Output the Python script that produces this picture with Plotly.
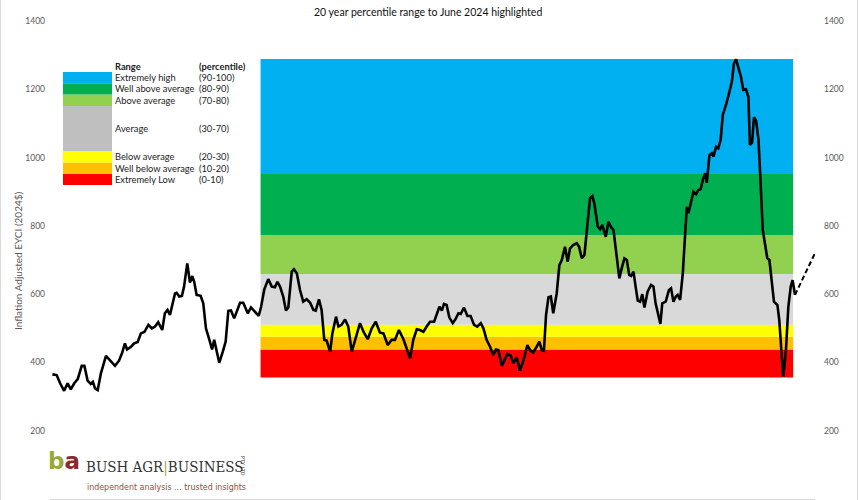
import plotly.graph_objects as go

# ---------------- data ----------------
years = [1996.67, 1996.83, 1996.96, 1997.11, 1997.24, 1997.36, 1997.49, 1997.62, 1997.77, 1997.87,
         1997.99, 1998.11, 1998.19, 1998.27, 1998.37, 1998.49, 1998.68, 1998.87, 1999.02, 1999.17,
         1999.29, 1999.39, 1999.47, 1999.62, 1999.74, 1999.87, 1999.99, 2000.12, 2000.27, 2000.40,
         2000.52, 2000.64, 2000.79, 2000.89, 2000.99, 2001.08, 2001.18, 2001.27, 2001.33, 2001.43,
         2001.53, 2001.61, 2001.73, 2001.83, 2001.92, 2001.99, 2002.08, 2002.23, 2002.33, 2002.43,
         2002.56, 2002.66, 2002.74, 2002.83, 2002.93, 2003.06, 2003.17, 2003.27, 2003.37, 2003.49,
         2003.58, 2003.71, 2003.83, 2004.00, 2004.12, 2004.25, 2004.41, 2004.50, 2004.62, 2004.77,
         2004.90, 2005.02, 2005.11, 2005.21, 2005.33, 2005.43, 2005.52, 2005.65, 2005.73, 2005.84,
         2005.96, 2006.08, 2006.21, 2006.34, 2006.46, 2006.55, 2006.67, 2006.77, 2006.87, 2006.96,
         2007.09, 2007.17, 2007.31, 2007.40, 2007.52, 2007.65, 2007.77, 2007.90, 2008.02, 2008.21,
         2008.34, 2008.50, 2008.65, 2008.80, 2008.96, 2009.09, 2009.25, 2009.40, 2009.52, 2009.67,
         2009.84, 2009.96, 2010.09, 2010.21, 2010.34, 2010.46, 2010.59, 2010.71, 2010.84, 2010.99,
         2011.11, 2011.19, 2011.28, 2011.36, 2011.46, 2011.56, 2011.69, 2011.81, 2011.90, 2011.99,
         2012.11, 2012.24, 2012.36, 2012.49, 2012.61, 2012.74, 2012.84, 2012.96, 2013.09, 2013.21,
         2013.31, 2013.40, 2013.53, 2013.61, 2013.74, 2013.87, 2013.96, 2014.09, 2014.21, 2014.34,
         2014.49, 2014.59, 2014.71, 2014.84, 2014.94, 2015.03, 2015.11, 2015.19, 2015.28, 2015.37,
         2015.46, 2015.59, 2015.69, 2015.78, 2015.90, 2016.00, 2016.09, 2016.21, 2016.34, 2016.43,
         2016.53, 2016.63, 2016.72, 2016.84, 2016.93, 2017.00, 2017.13, 2017.22, 2017.30, 2017.43,
         2017.53, 2017.63, 2017.72, 2017.84, 2017.94, 2018.03, 2018.13, 2018.22, 2018.31, 2018.38,
         2018.47, 2018.56, 2018.63, 2018.72, 2018.80, 2018.88, 2019.00, 2019.13, 2019.22, 2019.30,
         2019.40, 2019.48, 2019.55, 2019.68, 2019.80, 2019.88, 2019.97, 2020.06, 2020.13, 2020.22,
         2020.32, 2020.41, 2020.47, 2020.53, 2020.62, 2020.72, 2020.82, 2020.90, 2020.99, 2021.07,
         2021.16, 2021.22, 2021.32, 2021.41, 2021.47, 2021.57, 2021.65, 2021.74, 2021.82, 2021.94,
         2022.07, 2022.16, 2022.24, 2022.32, 2022.41, 2022.50, 2022.59, 2022.69, 2022.78, 2022.84,
         2022.92, 2022.99, 2023.07, 2023.16, 2023.24, 2023.32, 2023.40, 2023.49, 2023.57, 2023.66,
         2023.74, 2023.87, 2023.94, 2024.03, 2024.09, 2024.19, 2024.28, 2024.37, 2024.44, 2024.53]

eyci = [365, 363, 339, 317, 339, 321, 339, 351, 390, 390,
        347, 337, 343, 324, 319, 368, 419, 402, 390, 405,
        429, 456, 438, 446, 456, 460, 485, 489, 510, 500,
        505, 518, 495, 544, 554, 539, 573, 602, 604, 593,
        595, 622, 690, 634, 653, 636, 598, 595, 573, 500,
        466, 438, 466, 431, 399, 431, 461, 551, 552, 529,
        549, 575, 575, 544, 561, 549, 536, 563, 614, 644,
        622, 620, 636, 622, 593, 552, 561, 666, 673, 661,
        612, 578, 585, 575, 554, 552, 585, 554, 466, 464,
        431, 483, 534, 505, 510, 526, 505, 431, 464, 515,
        490, 468, 500, 519, 487, 485, 451, 466, 466, 495,
        468, 444, 412, 466, 497, 495, 490, 505, 519, 519,
        549, 563, 552, 571, 568, 532, 515, 529, 544, 542,
        561, 536, 536, 510, 505, 515, 500, 466, 446, 422,
        438, 436, 390, 402, 425, 419, 397, 415, 376, 405,
        451, 436, 429, 446, 461, 436, 434, 539, 591, 593,
        544, 602, 685, 700, 739, 695, 734, 744, 749, 739,
        705, 715, 788, 881, 887, 866, 798, 790, 803, 768,
        812, 796, 788, 710, 646, 676, 705, 700, 656, 653,
        666, 617, 581, 578, 600, 561, 607, 627, 622, 573,
        544, 513, 573, 578, 612, 617, 578, 593, 598, 583,
        661, 798, 856, 837, 866, 900, 893, 905, 907, 934,
        954, 926, 1008, 1013, 1003, 1032, 1027, 1052, 1125, 1154,
        1193, 1222, 1276, 1288, 1262, 1237, 1198, 1200, 1178, 1037,
        1044, 1118, 1108, 1052, 925, 788, 749, 705, 700, 632,
        578, 568, 524, 422, 358, 436, 563, 622, 641, 598]

forecast_years = [2024.53, 2025.28]
forecast_vals = [598, 720]

# 20-year percentile bands (June 2004 - June 2024)
band_start, band_end = 2004.48, 2024.46
band_edges = [356, 438, 475, 510, 659, 773, 952, 1289]  # values of 0,10,20,30,70,80,90,100th pct
band_names = ["Extremely Low", "Well below average", "Below average", "Average",
              "Above average", "Well above average", "Extremely high"]
band_pct = ["(0-10)", "(10-20)", "(20-30)", "(30-70)", "(70-80)", "(80-90)", "(90-100)"]
pct_lo = [0, 10, 20, 30, 70, 80, 90]
pct_hi = [10, 20, 30, 70, 80, 90, 100]
band_colors = ["#FF0000", "#FFC000", "#FFFF00", "#D9D9D9", "#92D050", "#00B050", "#00B0F0"]
legend_colors = ["#FF0000", "#FFC000", "#FFFF00", "#BFBFBF", "#92D050", "#00B050", "#00B0F0"]

y_ticks = [0, 200, 400, 600, 800, 1000, 1200, 1400]

# ---------------- layout helpers ----------------
W, H = 860, 500
ML, MR, MT, MB = 50, 45, 21, 1
PW, PH = W - ML - MR, H - MT - MB


def px(x):
    return (x - ML) / PW


def py(y):
    return (H - MB - y) / PH


FONT = "Lato, Open Sans, sans-serif"

fig = go.Figure()

fig.add_trace(go.Scatter(x=years, y=eyci, mode="lines",
                         line=dict(color="black", width=2.6), showlegend=False,
                         hoverinfo="skip"))
fig.add_trace(go.Scatter(x=forecast_years, y=forecast_vals, mode="lines", yaxis="y2",
                         line=dict(color="black", width=2, dash="5px,3px"), showlegend=False,
                         hoverinfo="skip"))

shapes = []
for i in range(len(band_names)):
    shapes.append(dict(type="rect", xref="x", yref="y", x0=band_start, x1=band_end,
                       y0=band_edges[i], y1=band_edges[i + 1], fillcolor=band_colors[i],
                       line=dict(width=0), layer="below"))

annotations = []
# legend block
leg_top, leg_bot = 72, 185
scale = (leg_bot - leg_top) / 100.0
for i in range(len(band_names)):
    y_top = leg_bot - pct_hi[i] * scale
    y_bot = leg_bot - pct_lo[i] * scale
    shapes.append(dict(type="rect", xref="paper", yref="paper", x0=px(63), x1=px(112),
                       y0=py(y_bot), y1=py(y_top), fillcolor=legend_colors[i],
                       line=dict(width=0)))
    ym = (y_top + y_bot) / 2
    annotations.append(dict(xref="paper", yref="paper", x=px(112.5), y=py(ym), text=band_names[i],
                            showarrow=False, xanchor="left", yanchor="middle",
                            font=dict(family=FONT, size=9.3, color="#222")))
    annotations.append(dict(xref="paper", yref="paper", x=px(196.5), y=py(ym), text=band_pct[i],
                            showarrow=False, xanchor="left", yanchor="middle",
                            font=dict(family=FONT, size=9.3, color="#222")))
annotations.append(dict(xref="paper", yref="paper", x=px(112.5), y=py(66.5), text="<b>Range</b>",
                        showarrow=False, xanchor="left", yanchor="middle",
                        font=dict(family=FONT, size=9.3, color="#222")))
annotations.append(dict(xref="paper", yref="paper", x=px(196.5), y=py(66.5), text="<b>(percentile)</b>",
                        showarrow=False, xanchor="left", yanchor="middle",
                        font=dict(family=FONT, size=9.3, color="#222")))

# title
annotations.append(dict(xref="paper", yref="paper", x=px(428), y=py(12),
                        text="20 year percentile range to June 2024 highlighted",
                        showarrow=False, xanchor="center", yanchor="middle",
                        font=dict(family=FONT, size=10.5, color="#111")))
# y axis title
annotations.append(dict(xref="paper", yref="paper", x=px(18), y=py(261),
                        text="Inflation Adjusted EYCI (2024$)", textangle=-90,
                        showarrow=False, xanchor="center", yanchor="middle",
                        font=dict(family=FONT, size=10, color="#595959")))

# logo
annotations.append(dict(xref="paper", yref="paper", x=px(46), y=py(461),
                        text="<b><span style='color:#9AA83A'>b</span>"
                             "<span style='color:#8B2A2A'>a</span></b>",
                        showarrow=False, xanchor="left", yanchor="middle",
                        font=dict(family="DejaVu Sans", size=23, color="#8B2A2A")))
annotations.append(dict(xref="paper", yref="paper", x=px(84), y=py(467),
                        text="BUSH AGR<span style='color:#9AA83A'>|</span>BUSINESS",
                        showarrow=False, xanchor="left", yanchor="middle",
                        font=dict(family="DejaVu Serif Condensed, DejaVu Serif", size=15, color="#333")))
annotations.append(dict(xref="paper", yref="paper", x=px(243), y=py(466), text="PTY LTD",
                        textangle=90, showarrow=False, xanchor="center", yanchor="middle",
                        font=dict(family="DejaVu Sans", size=5, color="#333")))
annotations.append(dict(xref="paper", yref="paper", x=px(85), y=py(487),
                        text="independent analysis ... trusted insights",
                        showarrow=False, xanchor="left", yanchor="middle",
                        font=dict(family="DejaVu Sans Condensed, sans-serif",
                                  size=8.8, color="#A0463C")))

# chart frame lines
for xx in (0.5, 857.5):
    shapes.append(dict(type="line", xref="paper", yref="paper", x0=px(xx), x1=px(xx),
                       y0=py(H), y1=py(0), line=dict(color="#D9D9D9", width=1)))

axis_font = dict(family=FONT, size=8.5, color="#595959")
fig.update_layout(
    width=W, height=H,
    margin=dict(l=ML, r=MR, t=MT, b=MB),
    paper_bgcolor="white", plot_bgcolor="white",
    showlegend=False,
    xaxis=dict(range=[1996.58, 2025.28], showgrid=False, zeroline=False, showticklabels=False,
               ticks="", showline=True, linecolor="#D9D9D9", linewidth=1),
    yaxis=dict(range=[0, 1400], tickvals=y_ticks, showgrid=False, zeroline=False, ticks="",
               tickfont=axis_font, ticklabelstandoff=4),
    yaxis2=dict(range=[0, 1400], tickvals=y_ticks, overlaying="y", side="right", showgrid=False,
                zeroline=False, ticks="", tickfont=axis_font, ticklabelstandoff=8),
    shapes=shapes,
    annotations=annotations,
)

fig.write_html("out.html")
